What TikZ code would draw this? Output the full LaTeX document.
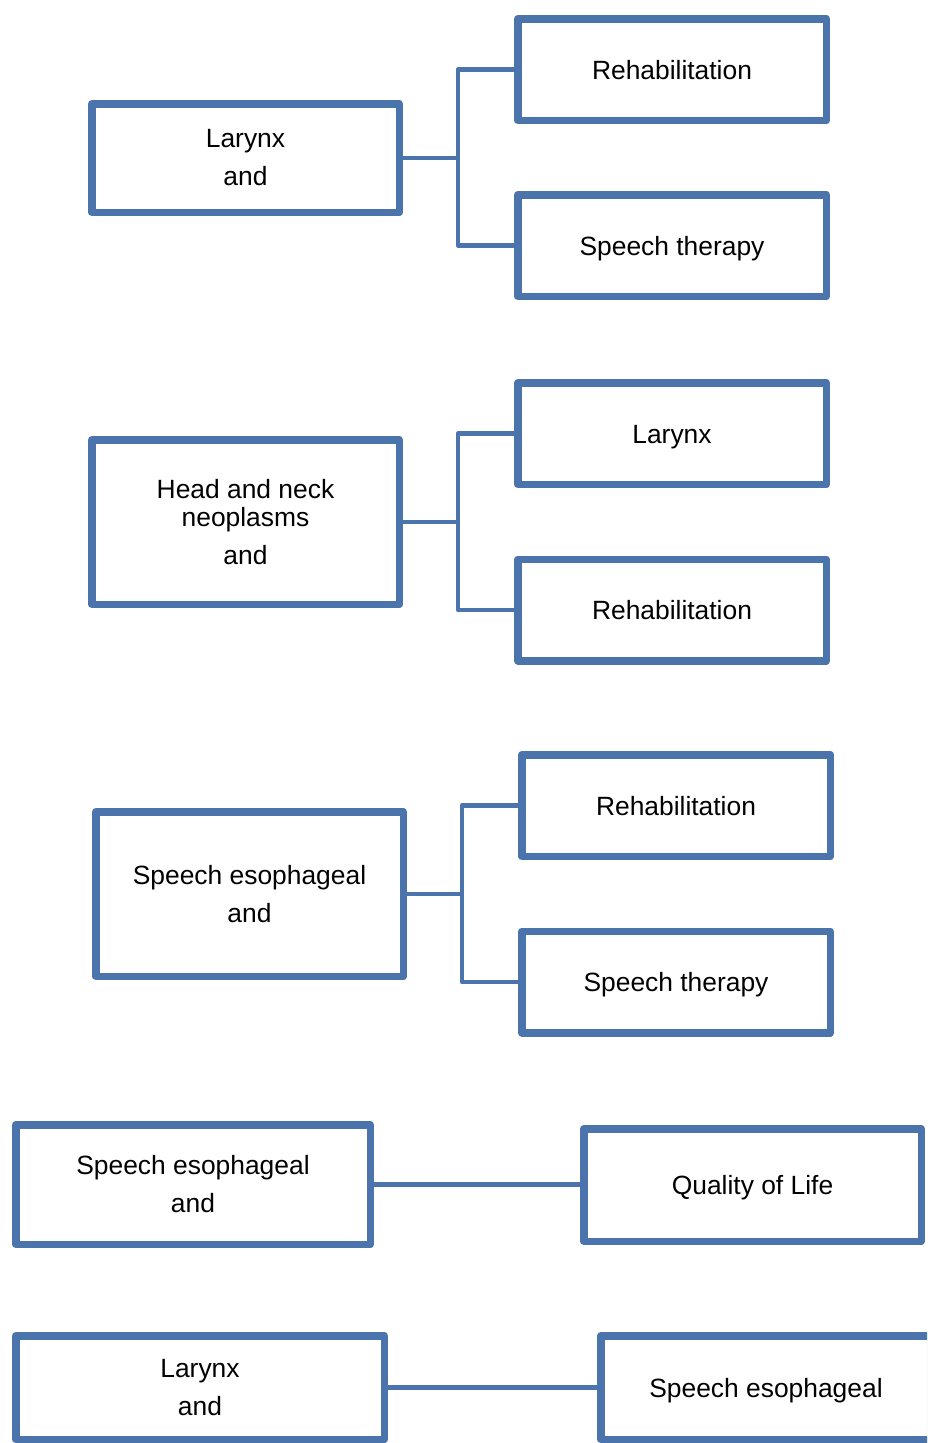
\documentclass[tikz,border=0pt]{standalone}
\usepackage{fontspec}
\setmainfont{Liberation Sans}
\usetikzlibrary{shadows}
\definecolor{boxblue}{HTML}{4A74AB}
\tikzset{
  box/.style={draw=boxblue, line width=7.5pt, line join=round, fill=white,
    align=center, font=\fontsize{26.4}{28}\selectfont, inner sep=0pt,
    drop shadow={shadow xshift=1.5pt, shadow yshift=-4pt, opacity=0.35, fill=black!55}},
  single/.style={text height=19pt, text depth=0pt},
  rbox/.style={box, single, minimum width=308.5pt, minimum height=101.5pt},
  conn/.style={draw=boxblue, line width=4.5pt}
}
\begin{document}
\begin{tikzpicture}[x=1pt, y=-1pt]
\clip (0,0) rectangle (927,1443);
\fill[white] (0,0) rectangle (927,1443);
% group 1
\node[box, minimum width=307.5pt, minimum height=108.5pt] (g1l) at (245.5,158) {Larynx\\[10pt]and};
\node[rbox] (g1a) at (672,69.5) {Rehabilitation};
\node[rbox] (g1b) at (672,245.5) {Speech therapy};
\coordinate (j1) at (458,158);
\draw[conn] (g1l.east) -- (j1);
\draw[conn, line join=round] (g1a.west) -| (j1) |- (g1b.west);
% group 2
\node[box, minimum width=307.5pt, minimum height=164.5pt] (g2l) at (245.5,522) {Head and neck\\neoplasms\\[10pt]and};
\node[rbox] (g2a) at (672,433.5) {Larynx};
\node[rbox] (g2b) at (672,610) {Rehabilitation};
\coordinate (j2) at (458,522);
\draw[conn] (g2l.east) -- (j2);
\draw[conn, line join=round] (g2a.west) -| (j2) |- (g2b.west);
% group 3
\node[box, minimum width=307.5pt, minimum height=164.5pt] (g3l) at (249.5,894) {Speech esophageal\\[10pt]and};
\node[rbox] (g3a) at (676,805.5) {Rehabilitation};
\node[rbox] (g3b) at (676,982) {Speech therapy};
\coordinate (j3) at (462,894);
\draw[conn] (g3l.east) -- (j3);
\draw[conn, line join=round] (g3a.west) -| (j3) |- (g3b.west);
% group 4
\node[box, minimum width=354.5pt, minimum height=119.5pt] (g4l) at (193,1184.5) {Speech esophageal\\[10pt]and};
\node[box, single, minimum width=337.5pt, minimum height=112.5pt] (g4r) at (752.5,1185) {Quality of Life};
\draw[conn] (g4l.east) -- (g4r.west |- g4l.east);
% group 5
\node[box, minimum width=368.5pt, minimum height=103.5pt] (g5l) at (200,1387.5) {Larynx\\[10pt]and};
\node[box, single, minimum width=330.5pt, minimum height=103.5pt] (g5r) at (766,1387.5) {Speech esophageal};
\draw[conn] (g5l.east) -- (g5r.west);
\end{tikzpicture}
\end{document}
